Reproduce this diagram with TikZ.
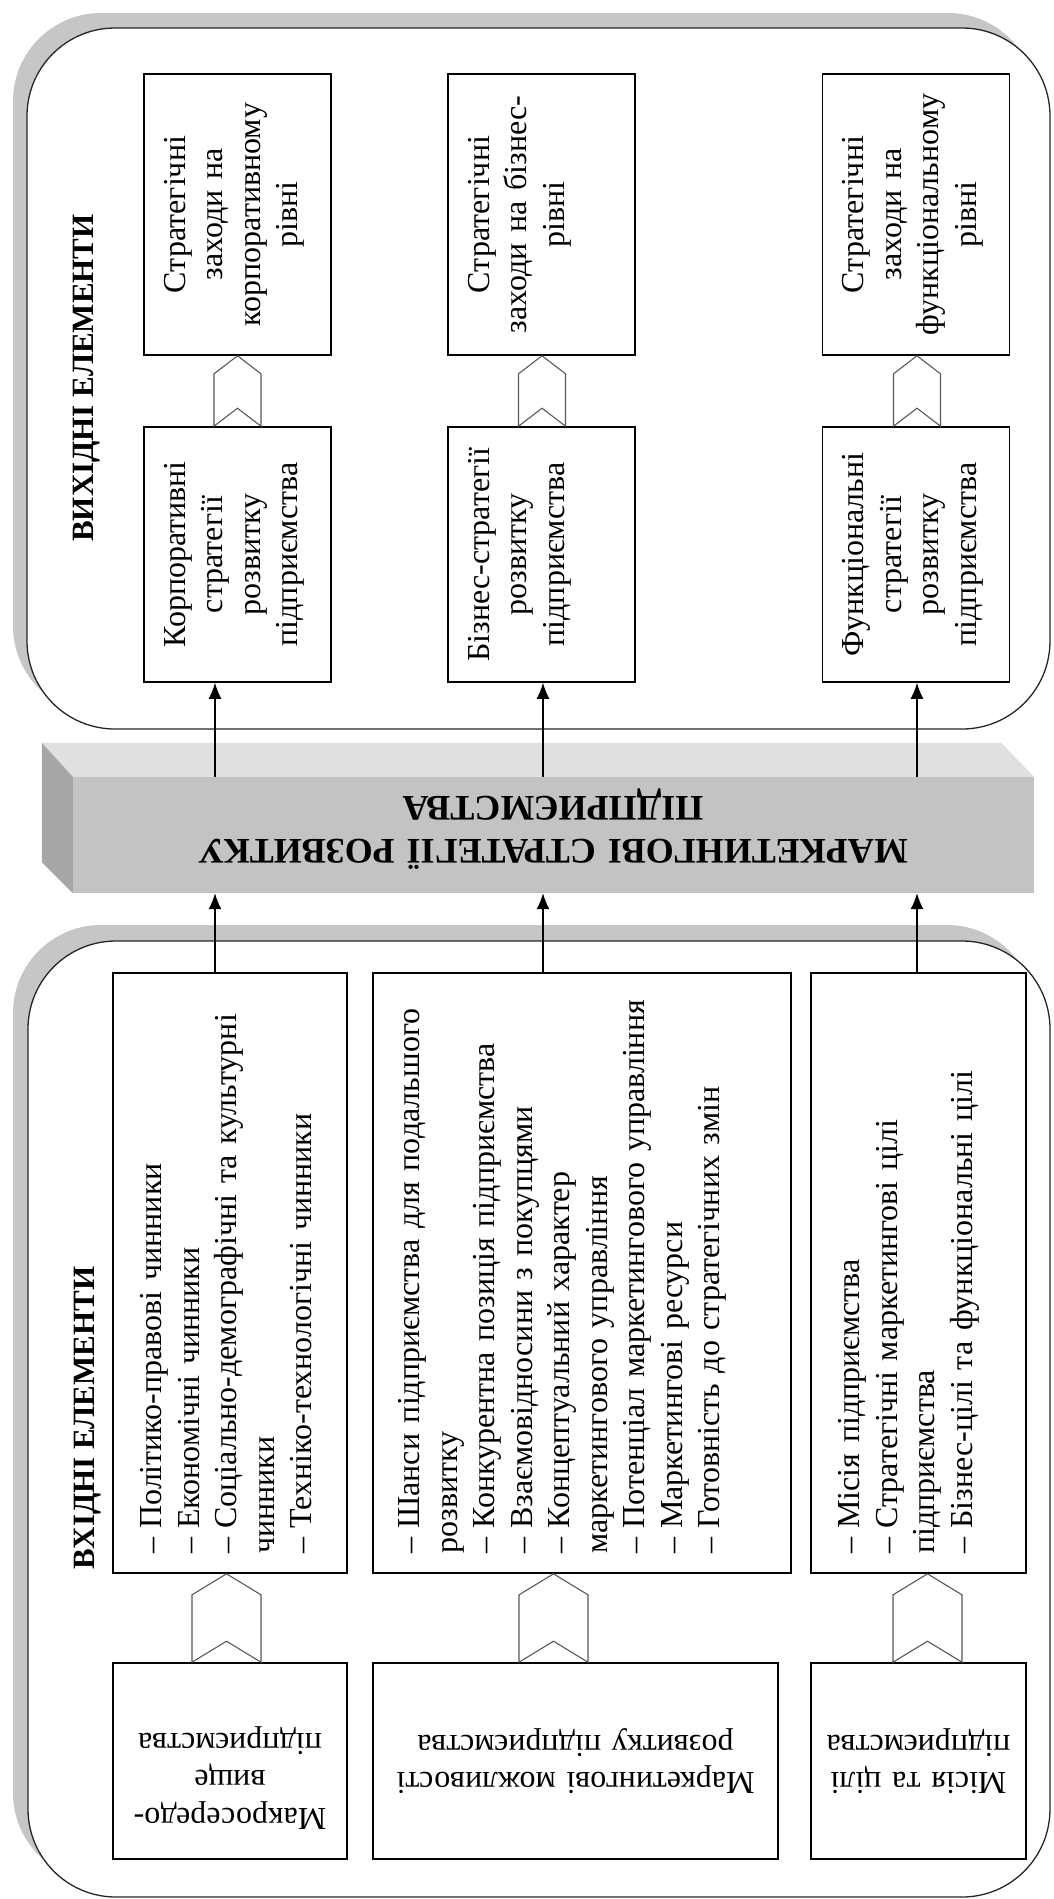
\documentclass[tikz,border=0pt]{standalone}
\usepackage{fontspec}
\setmainfont{Liberation Serif}
\usetikzlibrary{calc,arrows.meta}

\definecolor{barfront}{HTML}{C3C3C3}
\definecolor{bartop}{HTML}{E0E0E0}
\definecolor{barside}{HTML}{A6A6A6}
\definecolor{shadowgray}{HTML}{C6C6C6}

% list item with a hanging dash
\newcommand\itm[1]{\par\noindent\hangindent=0.78em\hangafter=1\makebox[0.78em][l]{–}#1}
% chevron connector: #1 x coordinate, #2 upper node, #3 lower node, #4 half width, #5 point depth
\newcommand\chevron[5]{%
  \draw[chevronline] ($(#1 |- #2.south)$) -- ++(#4,#5) -- ($(#1 |- #3.north)+(#4,0)$)
    -- ++(-#4,-#5) -- ++(-#4,#5) -- ($(#1 |- #2.south)+(-#4,#5)$) -- cycle;}

\begin{document}
\begin{tikzpicture}[x=1pt,y=-1pt,
  outerframe/.style={draw=black!85, line width=1.3pt, fill=white, rounded corners=88pt, inner sep=0pt},
  outershadow/.style={fill=shadowgray, draw=none, rounded corners=88pt, inner sep=0pt},
  blk/.style={draw=black, line width=1.6pt, fill=white, inner sep=0pt},
  bodytext/.style={font=\fontsize{32}{37.5}\selectfont, inner sep=0pt},
  chevronline/.style={draw=black!65, line width=1.1pt, fill=white, line join=miter},
  flowarrow/.style={draw=black, line width=1.3pt, -{Latex[length=16pt,width=13pt]}},
  titletext/.style={font=\fontsize{31}{37}\selectfont\bfseries, inner sep=0pt, rotate=90, anchor=base},
]
\useasboundingbox (0,0) rectangle (1053,1899);

% ---------------- output elements ----------------
\node[outershadow, minimum width=1023pt, minimum height=701pt] (outShadow) at (524.5,363.5) {};
\node[outerframe, minimum width=1023pt, minimum height=701pt] (outFrame) at (538.5,378.5) {};
\node[titletext] (outTitle) at (93,378) {ВИХІДНІ ЕЛЕМЕНТИ};

\node[blk, minimum width=187pt, minimum height=281pt] (o1a) at (237.5,214.5) {};
\node[blk, minimum width=187pt, minimum height=281pt] (o2a) at (541.5,214.5) {};
\node[blk, minimum width=187pt, minimum height=281pt] (o3a) at (916,214.5) {};
\node[blk, minimum width=187pt, minimum height=255pt] (o1b) at (237.5,554.5) {};
\node[blk, minimum width=187pt, minimum height=255pt] (o2b) at (541.5,554.5) {};
\node[blk, minimum width=187pt, minimum height=255pt] (o3b) at (916,554.5) {};

\node[bodytext, rotate=90, anchor=north, text width=270pt, align=center] at ([xshift=14pt]o1a.west)
  {\rule{0pt}{28pt}Стратегічні\\заходи на\\корпоративному\\рівні};
\node[bodytext, rotate=90, anchor=north, text width=270pt, align=center] at ([xshift=14pt]o2a.west)
  {\rule{0pt}{28pt}Стратегічні\\заходи на бізнес-\\рівні};
\node[bodytext, rotate=90, anchor=north, text width=270pt, align=center] at ([xshift=14pt]o3a.west)
  {\rule{0pt}{28pt}Стратегічні\\заходи на\\функціональному\\рівні};
\node[bodytext, rotate=90, anchor=north, text width=245pt, align=center] at ([xshift=14pt]o1b.west)
  {\rule{0pt}{28pt}Корпоративні\\стратегії\\розвитку\\підприємства};
\node[bodytext, rotate=90, anchor=north, text width=245pt, align=center] at ([xshift=14pt]o2b.west)
  {\rule{0pt}{28pt}Бізнес-стратегії\\розвитку\\підприємства};
\node[bodytext, rotate=90, anchor=north, text width=245pt, align=center] at ([xshift=14pt]o3b.west)
  {\rule{0pt}{28pt}Функціональні\\стратегії\\розвитку\\підприємства};

\coordinate (k1) at (237.5,0);
\coordinate (k2) at (542,0);
\coordinate (k3) at (917,0);
\chevron{k1}{o1a}{o1b}{23.5}{18}
\chevron{k2}{o2a}{o2b}{23.5}{18}
\chevron{k3}{o3a}{o3b}{23.5}{18}

% ---------------- central bar ----------------
\node[fill=barfront, minimum width=961pt, minimum height=116pt, inner sep=0pt] (bar) at (553.5,835) {};
\fill[bartop] (bar.north west) -- ++(-31,-34) -- ($(bar.north east)+(-33,-34)$) -- (bar.north east) -- cycle;
\fill[barside] (bar.north west) -- ++(-31,-34) -- ($(bar.south west)+(-31,-31)$) -- (bar.south west) -- cycle;
\node[font=\fontsize{36}{43}\selectfont\bfseries, rotate=180, anchor=north, align=center,
      text width=840pt, inner sep=0pt] (barText) at (553,874)
  {\rule{0pt}{34pt}МАРКЕТИНГОВІ СТРАТЕГІЇ РОЗВИТКУ\\ПІДПРИЄМСТВА};

% ---------------- input elements ----------------
\node[outershadow, minimum width=1022pt, minimum height=956pt] (inShadow) at (524,1403) {};
\node[outerframe, minimum width=1022pt, minimum height=956pt] (inFrame) at (539,1419) {};
\node[titletext] (inTitle) at (94,1418) {ВХІДНІ ЕЛЕМЕНТИ};

\node[blk, minimum width=234pt, minimum height=600pt] (i1a) at (230,1273) {};
\node[blk, minimum width=418pt, minimum height=600pt] (i2a) at (582,1273) {};
\node[blk, minimum width=215pt, minimum height=600pt] (i3a) at (918.5,1273) {};
\node[blk, minimum width=234pt, minimum height=196pt] (i1b) at (230,1761) {};
\node[blk, minimum width=405pt, minimum height=196pt] (i2b) at (575.5,1761) {};
\node[blk, minimum width=215pt, minimum height=196pt] (i3b) at (918.5,1761) {};

\node[bodytext, rotate=90, anchor=north west, text width=575pt, align=left]
  at ([xshift=12pt,yshift=20pt]i1a.south west)
  {\itm{\rule{0pt}{28pt}Політико-правові чинники}\itm{Економічні чинники}%
   \itm{Соціально-демографічні та культурні\\чинники}\itm{Техніко-технологічні чинники}};
\node[bodytext, rotate=90, anchor=north west, text width=575pt, align=left]
  at ([xshift=10pt,yshift=20pt]i2a.south west)
  {\itm{\rule{0pt}{28pt}Шанси підприємства для подальшого\\розвитку}%
   \itm{Конкурентна позиція підприємства}\itm{Взаємовідносини з покупцями}%
   \itm{Концептуальний характер\\маркетингового управління}%
   \itm{Потенціал маркетингового управління}\itm{Маркетингові ресурси}%
   \itm{Готовність до стратегічних змін}};
\node[bodytext, rotate=90, anchor=north west, text width=575pt, align=left]
  at ([xshift=12pt,yshift=20pt]i3a.south west)
  {\itm{\rule{0pt}{28pt}Місія підприємства}\itm{Стратегічні маркетингові цілі\\підприємства}%
   \itm{Бізнес-цілі та функціональні цілі}};

\node[bodytext, rotate=180, align=center, text width=300pt] at ([yshift=-17pt]i1b.center)
  {Макросередо-\\вище\\підприємства};
\node[bodytext, rotate=180, align=center, text width=400pt] at (i2b.center)
  {Маркетингові можливості\\розвитку підприємства};
\node[bodytext, rotate=180, align=center, text width=300pt] at (i3b.center)
  {Місія та цілі\\підприємства};

\coordinate (m1) at (226.5,0);
\coordinate (m2) at (553.5,0);
\coordinate (m3) at (927.5,0);
\chevron{m1}{i1a}{i1b}{34.5}{21}
\chevron{m2}{i2a}{i2b}{34.5}{21}
\chevron{m3}{i3a}{i3b}{34.5}{21}

% ---------------- flow arrows ----------------
\coordinate (c1) at (215,0);
\coordinate (c2) at (543,0);
\coordinate (c3) at (917,0);
\foreach \c/\i/\o in {c1/i1a/o1b, c2/i2a/o2b, c3/i3a/o3b}{
  \draw[flowarrow] (\i.north -| \c) -- (bar.south -| \c);
  \draw[flowarrow] (bar.north -| \c) -- (\o.south -| \c);
}
\end{tikzpicture}
\end{document}
